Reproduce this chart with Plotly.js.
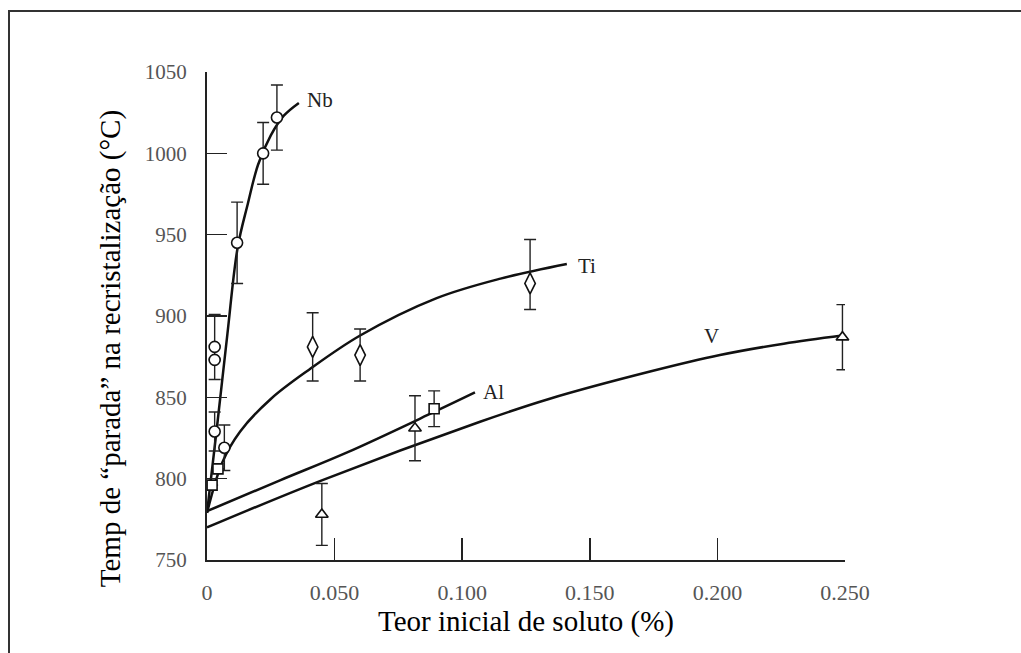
<!DOCTYPE html>
<html>
<head>
<meta charset="utf-8">
<script src="https://cdn.plot.ly/plotly-3.0.1.min.js"></script>
<style>
  html, body { margin: 0; padding: 0; background: #fff; }
  #wrap { position: relative; width: 1021px; height: 653px; overflow: hidden; }
  #chart { position: absolute; left: 0; top: 0; width: 1021px; height: 653px; }
  #frame { position: absolute; left: 8px; top: 10px; width: 1013px; height: 643px;
           border-top: 2px solid #333; border-left: 2px solid #333; pointer-events: none; }
</style>
</head>
<body>
<div id="wrap"><div id="chart"></div><div id="frame"></div></div>
<script>
// ---- data ----
// fitted curves
var nbCurveX = [0, 0.004, 0.008, 0.012, 0.016, 0.020, 0.025, 0.030, 0.036];
var nbCurveY = [779, 833, 889, 942, 969, 993, 1011, 1023, 1031];
var tiCurveX = [0, 0.006, 0.013, 0.025, 0.040, 0.060, 0.090, 0.115, 0.141];
var tiCurveY = [779, 810, 829, 849, 867, 888, 911, 923, 932];
var alCurveX = [0, 0.0286, 0.0547, 0.089, 0.105];
var alCurveY = [780, 799, 816, 841, 853];
var vCurveX  = [0, 0.045, 0.107, 0.134, 0.174, 0.201, 0.226, 0.249];
var vCurveY  = [770, 799, 835, 849, 866, 876, 883, 888];

// measured points with error bars
var nbX = [0.003, 0.003, 0.003, 0.0068, 0.0118, 0.022, 0.0274];
var nbY = [881, 873, 829, 819, 945, 1000, 1022];
var nbErr = [20, 0, 12, 14, 25, 19, 20];

var tiX = [0.0414, 0.060, 0.1266];
var tiY = [881, 876, 920];
var tiErrPlus = [21, 16, 27];
var tiErrMinus = [21, 16, 16];

var alX = [0.002, 0.0043, 0.089];
var alY = [796, 806, 843];
var alErr = [0, 0, 11];

var vX = [0.045, 0.0815, 0.249];
var vY = [778, 831, 887];
var vErr = [19, 20, 20];

var xTickVals = [0, 0.05, 0.10, 0.15, 0.20, 0.25];
var xTickText = ['0', '0.050', '0.100', '0.150', '0.200', '0.250'];
var yTickVals = [750, 800, 850, 900, 950, 1000, 1050];
var yTickText = ['750', '800', '850', '900', '950', '1000', '1050'];

var curveNames = ['Nb', 'Ti', 'Al', 'V'];

// ---- build ----
var FONT = 'Liberation Serif, Times New Roman, Times, serif';
function curve(x, y, name) {
  return { x: x, y: y, name: name, type: 'scatter', mode: 'lines',
           line: { color: '#111', width: 2.5, shape: 'spline', smoothing: 1 },
           hoverinfo: 'skip', showlegend: false };
}
function pts(x, y, plus, minus, symbol, size, name) {
  return { x: x, y: y, name: name, type: 'scatter', mode: 'markers', cliponaxis: false,
           marker: { symbol: symbol, size: size, color: '#fff',
                     line: { color: '#111', width: 1.6 } },
           error_y: { type: 'data', array: plus, arrayminus: minus, symmetric: false,
                      visible: true, color: '#222', thickness: 1.4, width: 6 },
           showlegend: false };
}

var data = [
  curve(nbCurveX, nbCurveY, curveNames[0]),
  curve(tiCurveX, tiCurveY, curveNames[1]),
  curve(alCurveX, alCurveY, curveNames[2]),
  curve(vCurveX, vCurveY, curveNames[3]),
  pts(nbX, nbY, nbErr, nbErr, 'circle', 11, curveNames[0]),
  pts(tiX, tiY, tiErrPlus, tiErrMinus, 'diamond-tall', 15, curveNames[1]),
  pts(alX, alY, alErr, alErr, 'square', 10, curveNames[2]),
  pts(vX, vY, vErr, vErr, 'triangle-up', 11, curveNames[3])
];

var labelFont = { family: FONT, size: 21, color: '#222' };
var layout = {
  width: 1021, height: 653,
  margin: { l: 207, r: 176, t: 72, b: 93 },
  paper_bgcolor: '#fff', plot_bgcolor: '#fff',
  showlegend: false,
  font: { family: FONT, color: '#111' },
  xaxis: {
    range: [0, 0.25], tickvals: xTickVals, ticktext: xTickText,
    ticks: 'inside', ticklen: 22, tickwidth: 1.6, tickcolor: '#222',
    showline: true, linewidth: 2, linecolor: '#222',
    showgrid: false, zeroline: false, ticklabelstandoff: 12,
    tickfont: { family: FONT, size: 22, color: '#555' },
    title: { text: 'Teor inicial de soluto (%)', standoff: 6,
             font: { family: FONT, size: 29, color: '#000' } }
  },
  yaxis: {
    range: [750, 1050], tickvals: yTickVals, ticktext: yTickText,
    ticks: 'inside', ticklen: 20, tickwidth: 1.6, tickcolor: '#222',
    showline: true, linewidth: 2, linecolor: '#222',
    showgrid: false, zeroline: false, ticklabelstandoff: 14,
    tickfont: { family: FONT, size: 21, color: '#555' }
  },
  annotations: [
    { xref: 'paper', yref: 'paper', x: -0.152, y: 0.432, xanchor: 'center', yanchor: 'middle',
      text: 'Temp de “parada” na recristalização (°C)', textangle: -90, showarrow: false,
      font: { family: FONT, size: 29, color: '#000' } },
    { x: 0.0443, y: 1033, text: curveNames[0], showarrow: false, font: labelFont },
    { x: 0.1489, y: 931, text: curveNames[1], showarrow: false, font: labelFont },
    { x: 0.1121, y: 853, text: curveNames[2], showarrow: false, font: labelFont },
    { x: 0.1975, y: 888, text: curveNames[3], showarrow: false, font: labelFont }
  ]
};

Plotly.newPlot('chart', data, layout, { displayModeBar: false, staticPlot: true });
</script>
</body>
</html>
